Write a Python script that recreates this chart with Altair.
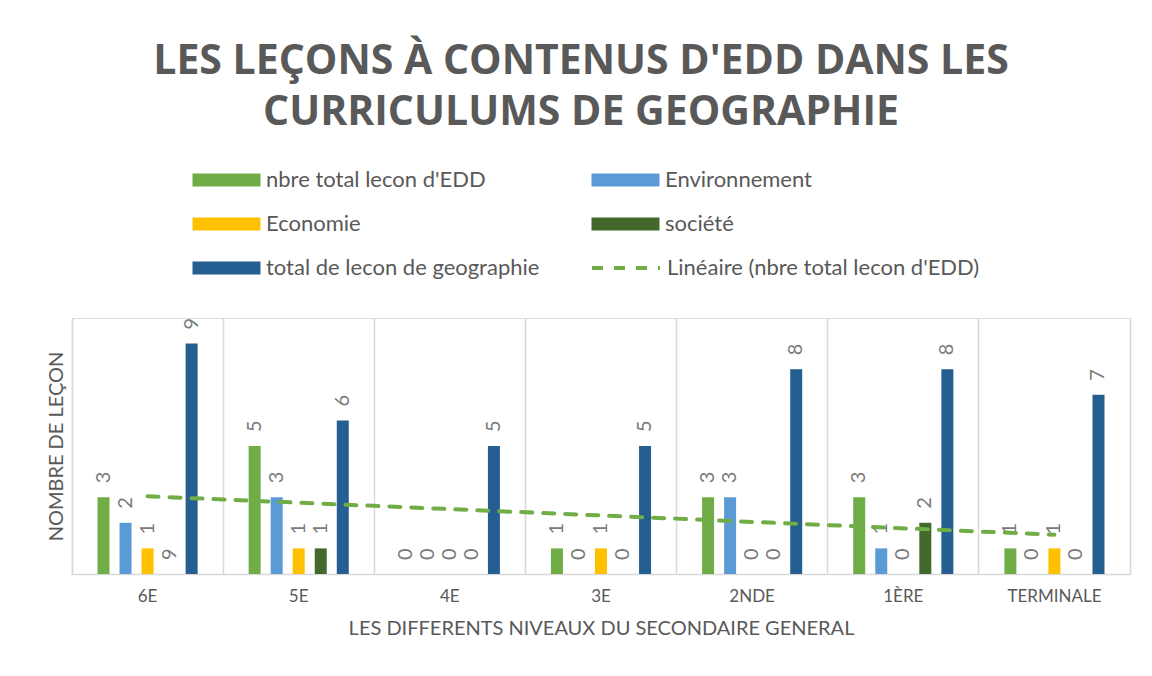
import json
import altair as alt
import pandas as pd

categories = ["6E", "5E", "4E", "3E", "2NDE", "1ÈRE", "TERMINALE"]
series = ["nbre total lecon d'EDD", "Environnement", "Economie", "société",
          "total de lecon de geographie"]
legend_order = ["nbre total lecon d'EDD", "Economie", "total de lecon de geographie",
                "Environnement", "société"]
total_edd = [3, 5, 0, 1, 3, 3, 1]
environnement = [2, 3, 0, 0, 3, 1, 0]
economie = [1, 1, 0, 1, 0, 0, 1]
societe = [0, 1, 0, 0, 0, 2, 0]
total_geo = [9, 6, 5, 5, 8, 8, 7]
societe_labels = ["9", "1", "0", "0", "0", "2", "0"]
series_colors = {"nbre total lecon d'EDD": "#70AD47", "Environnement": "#5B9BD5",
                 "Economie": "#FFC000", "société": "#43682B",
                 "total de lecon de geographie": "#255E91"}
trend_name = "Linéaire (nbre total lecon d'EDD)"
title_lines = ["LES LEÇONS À CONTENUS D'EDD DANS LES", "CURRICULUMS DE GEOGRAPHIE"]
x_title = "LES DIFFERENTS NIVEAUX DU SECONDAIRE GENERAL"
y_title = "NOMBRE DE LEÇON"

values_by_series = [total_edd, environnement, economie, societe, total_geo]
rows = []
for i, cat in enumerate(categories):
    for s, vals in zip(series, values_by_series):
        lab = societe_labels[i] if s == "société" else str(vals[i])
        rows.append({"cat": cat, "idx": i + 1, "series": s, "value": vals[i], "label": lab})
df = pd.DataFrame(rows)

GRID = "#D9D9D9"
TEXT = "#595959"
FONT = "Lato"

x_enc = alt.X(
    "cat:N", sort=categories,
    scale=alt.Scale(paddingInner=0, paddingOuter=0),
    axis=alt.Axis(title=x_title, bandPosition=0, grid=True, gridColor=GRID, gridWidth=1.5,
                  domainColor=GRID, domainWidth=1.5, ticks=False, labelAngle=0,
                  labelPadding=14, labelFont=FONT, labelFontSize=17, labelColor=TEXT,
                  titleFont=FONT, titleFontSize=20, titleColor=TEXT, titleFontWeight="normal",
                  titlePadding=14),
)
xoff = alt.XOffset("series:N", sort=series, scale=alt.Scale(paddingInner=0, paddingOuter=0.93))
y_scale = alt.Scale(domain=[0, 10])

bars = alt.Chart(df).mark_bar(size=12).encode(
    x=x_enc,
    xOffset=xoff,
    y=alt.Y("value:Q", scale=y_scale,
            axis=alt.Axis(title=y_title, labels=False, ticks=False, grid=False,
                          domainColor=GRID, domainWidth=1.5, titleFont=FONT, titleFontSize=20,
                          titleColor=TEXT, titleFontWeight="normal", titlePadding=6)),
    color=alt.Color("series:N",
                    scale=alt.Scale(domain=legend_order,
                                    range=[series_colors[s] for s in legend_order]),
                    legend=alt.Legend(title=None, orient="none", legendX=116, legendY=-149,
                                      columns=2, columnPadding=47, rowPadding=22,
                                      symbolType="M-1,-1H9.46V1H-1Z", symbolSize=169,
                                      symbolStrokeWidth=0, labelFont=FONT, labelFontSize=22,
                                      labelColor=TEXT, labelOffset=56, padding=0, labelLimit=500)),
)

labels = alt.Chart(df).mark_text(
    angle=270, align="left", baseline="middle", dx=14, fontSize=20, font=FONT, color="#7A7A7A"
).encode(
    x=x_enc,
    xOffset=xoff,
    y=alt.Y("value:Q", scale=y_scale, axis=None),
    text="label:N",
)

trend = alt.Chart(df).transform_filter(
    alt.FieldEqualPredicate(field="series", equal=series[0])
).transform_regression(
    "idx", "value", method="linear"
).transform_calculate(
    cat=f"{json.dumps(categories)}[round(datum.idx) - 1]",
    trend=json.dumps(trend_name),
).mark_line(color="#70AD47", strokeWidth=4, strokeCap="round").encode(
    x=x_enc,
    y=alt.Y("value:Q", scale=y_scale,
            axis=alt.Axis(orient="right", title=None, labels=False, ticks=False, grid=False,
                          domainColor=GRID, domainWidth=1.5)),
    strokeDash=alt.StrokeDash("trend:N", scale=alt.Scale(range=[[11, 11]]),
                              legend=alt.Legend(title=None, orient="none", legendX=518, legendY=-86,
                                                symbolType="stroke", symbolSize=4624,
                                                symbolStrokeWidth=4, symbolStrokeColor="#70AD47",
                                                symbolDash=[7, 7],
                                                labelFont=FONT, labelFontSize=22, labelColor=TEXT,
                                                labelOffset=5, padding=0, labelLimit=500)),
)

chart = alt.layer(bars, labels, trend).resolve_axis(y="independent").properties(
    width=1058, height=256,
    padding={"left": 64, "top": 310, "right": 14, "bottom": 94},
    autosize=alt.AutoSizeParams(type="none"),
    title=alt.TitleParams(text=title_lines, font="Open Sans", fontSize=41, fontWeight="bold",
                          color=TEXT, lineHeight=51, anchor="middle", dx=-20, offset=35),
).configure_view(stroke=None).configure(background="white")

chart.save("out.html", embed_options={"renderer": "svg", "actions": False})
